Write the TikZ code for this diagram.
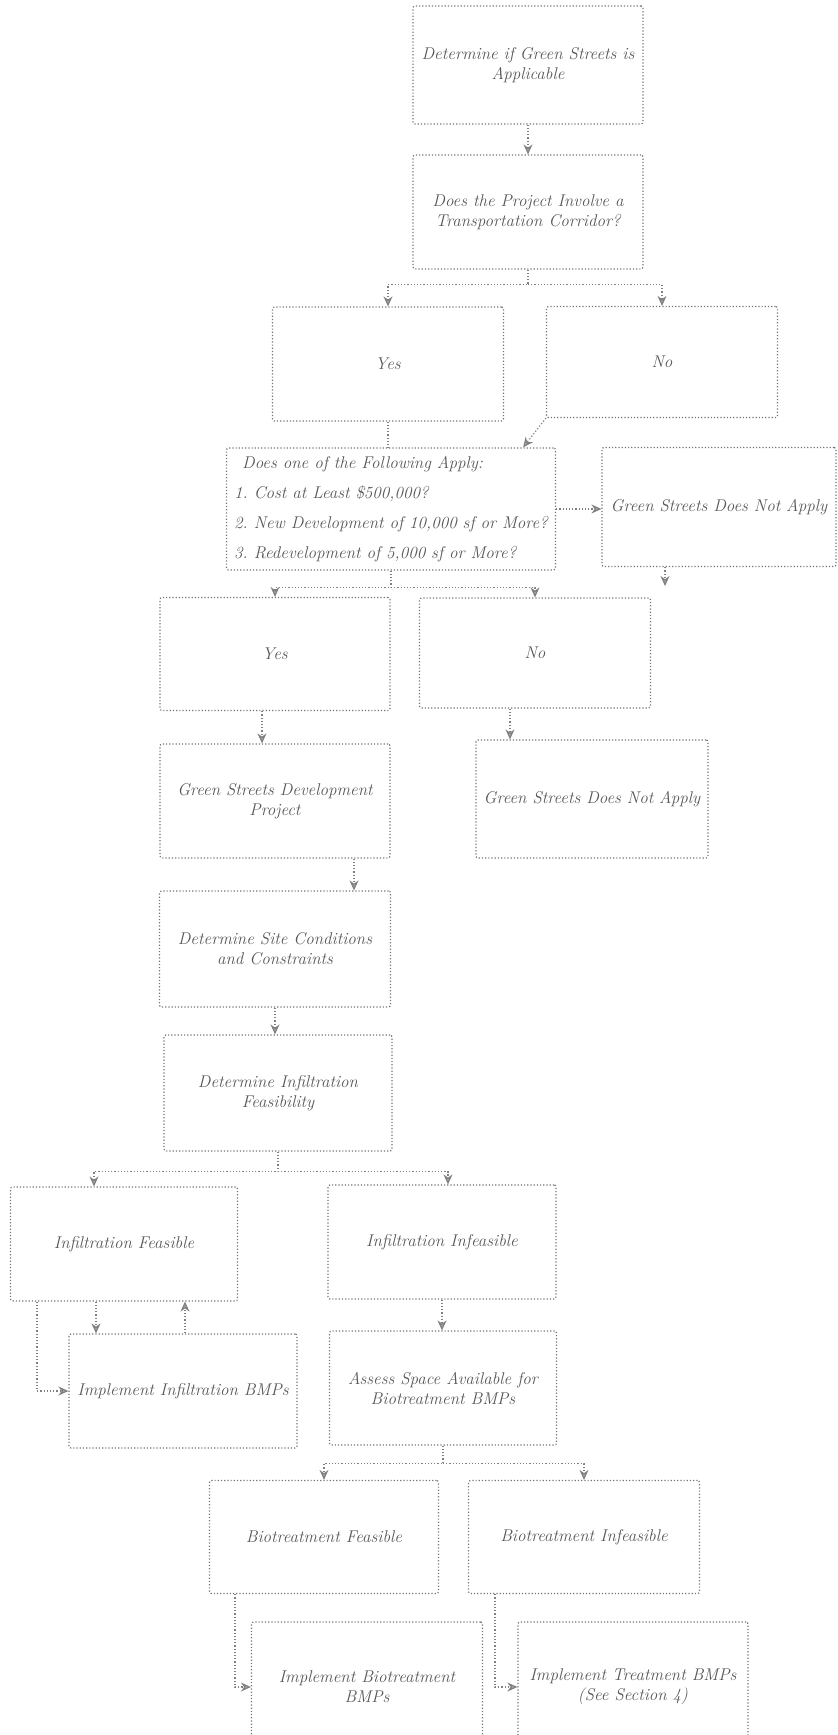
\documentclass[tikz,border=0pt]{standalone}
\usepackage{fontspec}
\usetikzlibrary{arrows.meta}
\frenchspacing
\begin{document}
\begin{tikzpicture}[x=1pt,y=-1pt,
  box/.style={draw=black!55, dotted, line width=1.2pt, rounded corners=2pt, align=center,
    inner sep=2pt, text=black!66, font=\fontsize{17}{20}\selectfont\itshape},
  conn/.style={draw=black!50, dotted, line width=1.2pt},
  arr/.style={conn, -{Stealth[length=10pt,width=9pt,color=black!50,fill=black!35]}}]
\useasboundingbox (0,0) rectangle (838,1735);
\clip (0,0) rectangle (838,1735);

\node[box, minimum width=230pt, minimum height=118pt] (b1) at (528,65) {Determine if Green Streets is\\Applicable};
\node[box, minimum width=230pt, minimum height=114pt] (b2) at (528,212) {Does the Project Involve a\\Transportation Corridor?};
\node[box, minimum width=231pt, minimum height=114pt] (yes1) at (388,364) {Yes};
\node[box, minimum width=231pt, minimum height=111pt] (no1) at (662,362) {No};
\node[box, minimum width=329pt, minimum height=122pt, align=left,
      font=\fontsize{17}{30}\selectfont\itshape] (q) at (391,509)
  {\hspace*{8pt}Does one of the Following Apply:\\1. Cost at Least \$500,000?\\2. New Development of 10,000 sf or More?\\3. Redevelopment of 5,000 sf or More?};
\node[box, minimum width=234pt, minimum height=119pt] (gs1) at (719,507) {Green Streets Does Not Apply};
\node[box, minimum width=230pt, minimum height=113pt] (yes2) at (275,654) {Yes};
\node[box, minimum width=231pt, minimum height=110pt] (no2) at (535,653) {No};
\node[box, minimum width=230pt, minimum height=114pt] (gsdp) at (275,801) {Green Streets Development\\Project};
\node[box, minimum width=232pt, minimum height=118pt] (gs2) at (592,799) {Green Streets Does Not Apply};
\node[box, minimum width=231pt, minimum height=116pt] (site) at (275,949) {Determine Site Conditions\\and Constraints};
\node[box, minimum width=228pt, minimum height=116pt] (inf) at (278,1093) {Determine Infiltration\\Feasibility};
\node[box, minimum width=227pt, minimum height=114pt] (if) at (124,1244) {Infiltration Feasible};
\node[box, minimum width=228pt, minimum height=114pt] (ii) at (442,1242) {Infiltration Infeasible};
\node[box, minimum width=228pt, minimum height=114pt] (iib) at (183,1391) {Implement Infiltration BMPs};
\node[box, minimum width=227pt, minimum height=114pt] (as) at (443,1388) {Assess Space Available for\\Biotreatment BMPs};
\node[box, minimum width=229pt, minimum height=113pt] (bf) at (324,1537) {Biotreatment Feasible};
\node[box, minimum width=231pt, minimum height=113pt] (bi) at (584,1537) {Biotreatment Infeasible};
\node[box, minimum width=231pt, minimum height=130pt] (ibb) at (367,1687) {Implement Biotreatment\\BMPs};
\node[box, minimum width=230pt, minimum height=130pt] (it) at (633,1687) {Implement Treatment BMPs\\(See Section 4)};

% connectors
\draw[arr] (b1.south) -- (b2.north);
\draw[arr] (b2.south) -- ++(0,15) coordinate (j1) -| (yes1.north);
\draw[arr] (j1) -| (no1.north);
\draw[conn] (yes1.south) -- (yes1.south |- q.north);
\draw[arr] (no1.south west) -- ([xshift=-33pt]q.north east);
\draw[arr] (q.east) -- (q.east -| gs1.west);
\coordinate (g1e) at (665,586);
\draw[arr] (gs1.south -| g1e) -- (g1e);
\draw[arr] (q.south) -- ++(0,17) coordinate (j2) -| (yes2.north);
\draw[arr] (j2) -| (no2.north);
\draw[arr] ([xshift=-13pt]yes2.south) -- ([xshift=-13pt]yes2.south |- gsdp.north);
\draw[arr] ([xshift=-25pt]no2.south) -- ([xshift=-25pt]no2.south |- gs2.north);
\draw[arr] ([xshift=79pt]gsdp.south) -- ([xshift=79pt]gsdp.south |- site.north);
\draw[arr] (site.south) -- (site.south |- inf.north);
\draw[arr] (inf.south) -- ++(0,20) coordinate (j3) -| ([xshift=-30pt]if.north);
\draw[arr] (j3) -| ([xshift=6pt]ii.north);
\draw[arr] ([xshift=-28pt]if.south) -- ([xshift=-28pt]if.south |- iib.north);
\draw[arr] ([xshift=2pt]iib.north) -- ([xshift=2pt]iib.north |- if.south);
\draw[arr] ([xshift=-87pt]if.south) |- (iib.west);
\draw[arr] (ii.south) -- (ii.south |- as.north);
\draw[arr] (as.south) -- ++(0,18) coordinate (j4) -| (bf.north);
\draw[arr] (j4) -| (bi.north);
\draw[arr] ([xshift=-89pt]bf.south) |- (ibb.west);
\draw[arr] ([xshift=-89pt]bi.south) |- (it.west);
\end{tikzpicture}
\end{document}
